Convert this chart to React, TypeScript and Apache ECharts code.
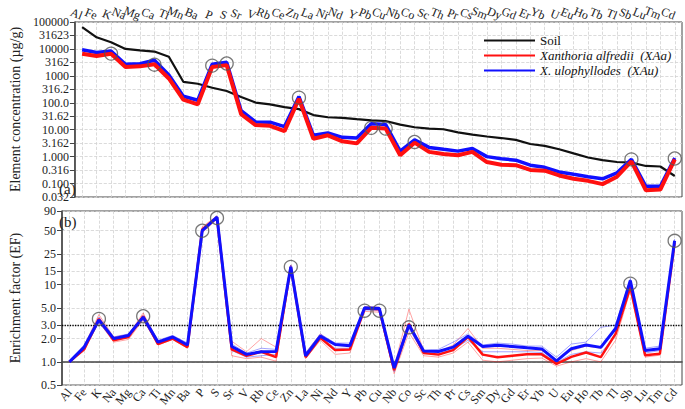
import React, { useEffect, useRef } from 'react';
import * as echarts from 'echarts';

const ELEMENTS = ['Al','Fe','K','Na','Mg','Ca','Ti','Mn','Ba','P','S','Sr','V','Rb','Ce','Zn','La','Ni','Nd','Y','Pb','Cu','Nb','Co','Sc','Th','Pr','Cs','Sm','Dy','Gd','Er','Yb','U','Eu','Ho','Tb','Tl','Sb','Lu','Tm','Cd'];

// Panel (a): element concentration (µg/g)
const SOIL_CONC = [65000, 27000, 17800, 10000, 8900, 8000, 5100, 600, 510, 360, 273, 163, 102, 87, 69, 58, 35, 29, 27.5, 24.6, 22.3, 21, 15.5, 12.3, 11, 10.4, 7.9, 6.6, 5.6, 4.9, 4.2, 2.95, 2.5, 1.88, 1.32, 0.93, 0.74, 0.63, 0.6, 0.45, 0.43, 0.19];
const XAU_CONC = [9300, 7400, 8300, 2700, 2800, 3800, 1070, 174, 124, 2700, 3200, 51, 19.5, 19, 13, 170, 6.2, 7.6, 5.2, 4.9, 16.6, 15.5, 1.6, 4.2, 2.2, 1.87, 1.6, 2.0, 1.0, 0.83, 0.74, 0.48, 0.4, 0.27, 0.22, 0.18, 0.15, 0.25, 0.79, 0.079, 0.079, 0.89];
const XAA_CONC = [6600, 5500, 6600, 2150, 2250, 2700, 800, 130, 87, 2150, 2500, 38, 14.8, 14, 8.8, 141, 4.6, 6.2, 3.7, 3.1, 11.7, 11, 1.12, 3.3, 1.5, 1.26, 1.12, 1.5, 0.63, 0.5, 0.48, 0.32, 0.3, 0.2, 0.15, 0.126, 0.095, 0.18, 0.66, 0.056, 0.06, 0.79];

// Circled elements
const CIRCLE_ELEMENTS = ['K','Ca','P','S','Zn','Pb','Cu','Co','Sb','Cd'];
const CIRCLE_CONC = [6700, 2600, 2400, 2870, 155, 11.7, 11, 3.5, 0.79, 0.85];
const CIRCLE_EF = [3.6, 3.9, 50, 73, 17, 4.6, 4.6, 2.8, 10.3, 37];

// Panel (b): enrichment factor
const XAU_EF = [1.0, 1.55, 3.5, 2.0, 2.2, 3.8, 1.8, 2.1, 1.65, 50, 75, 1.58, 1.25, 1.35, 1.36, 17, 1.2, 2.15, 1.68, 1.62, 5.0, 4.9, 0.83, 3.0, 1.38, 1.36, 1.55, 2.15, 1.58, 1.64, 1.58, 1.52, 1.47, 1.03, 1.48, 1.65, 1.54, 2.7, 11.3, 1.4, 1.48, 37];
const XAA_EF = [1.0, 1.45, 3.6, 1.9, 2.1, 3.9, 1.7, 2.0, 1.55, 52, 74, 1.45, 1.2, 1.35, 1.15, 17, 1.15, 2.05, 1.42, 1.45, 4.9, 4.8, 0.78, 3.1, 1.3, 1.24, 1.42, 2.1, 1.24, 1.15, 1.2, 1.25, 1.25, 0.94, 1.16, 1.32, 1.15, 2.3, 9.3, 1.22, 1.27, 35];
const XAA_EF_LOW = [1.0, 1.4, 3.3, 1.8, 1.95, 3.5, 1.65, 1.95, 1.5, 47, 70, 1.2, 1.1, 1.15, 1.02, 16, 1.1, 1.9, 1.25, 1.3, 4.5, 4.4, 0.7, 2.4, 1.2, 1.15, 1.3, 1.8, 1.05, 1.0, 1.05, 1.1, 1.12, 0.88, 1.0, 1.1, 1.0, 1.9, 8.5, 1.15, 1.22, 33];
const XAA_EF_HIGH = [1.0, 1.6, 4.1, 2.1, 2.25, 4.3, 1.85, 2.15, 1.7, 56, 78, 1.85, 1.35, 2.0, 1.55, 18, 1.3, 2.3, 1.65, 1.65, 5.2, 5.1, 0.85, 4.8, 1.4, 1.35, 1.65, 2.7, 1.5, 1.5, 1.45, 1.4, 1.4, 1.05, 1.4, 1.6, 1.5, 2.6, 10.5, 1.4, 1.45, 37];
const XAU_EF_LOW = [1.0, 1.45, 3.2, 1.9, 2.1, 3.5, 1.7, 2.0, 1.55, 48, 72, 1.4, 1.15, 1.2, 1.25, 16, 1.15, 2.1, 1.5, 1.5, 4.7, 4.6, 0.75, 2.7, 1.28, 1.28, 1.45, 1.9, 1.35, 1.35, 1.35, 1.35, 1.32, 0.98, 1.25, 1.35, 1.3, 2.2, 9.5, 1.3, 1.4, 35];
const XAU_EF_HIGH = [1.0, 1.65, 3.8, 2.1, 2.3, 4.0, 1.9, 2.2, 1.75, 52, 78, 1.7, 1.3, 1.5, 1.45, 18, 1.3, 2.3, 1.75, 1.75, 5.2, 5.1, 0.85, 3.2, 1.4, 1.45, 1.8, 2.3, 1.65, 1.75, 1.7, 1.6, 1.6, 1.15, 1.7, 1.8, 2.8, 3.0, 12, 1.5, 1.6, 39];

// Tick labels
const TOP_TICK_LABELS = ['0.032','0.100','0.316','1.000','3.162','10.00','31.62','100.0','316.2','1000','3162','10000','31623','100000'];
const EF_TICKS = [0.5, 1, 2, 3, 5, 10, 15, 25, 50, 90];
const EF_TICK_LABELS = ['0.5','1.0','2.0','3.0','5.0','10','15','25','50','90'];
const EF_THRESHOLD = 3;

const SOIL_NAME = 'Soil';
const XAA_NAME = 'Xanthoria alfredii  (XAa)';
const XAU_NAME = 'X. ulophyllodes  (XAu)';

const FONT = 'Liberation Serif';
const RED = '#ff1010';
const BLUE = '#1010ff';
const GRIDC = '#d2d2d2';
const AXC = '#444';

const lg = (v: number) => Math.log10(v);

function buildOption() {
  const catAxis = (gridIndex: number, top: boolean) => ({
    gridIndex,
    type: 'category',
    data: ELEMENTS,
    position: top ? 'top' : 'bottom',
    boundaryGap: true,
    axisLine: { show: !top, lineStyle: { color: AXC, width: 1.5 } },
    axisTick: { show: false },
    axisLabel: {
      interval: 0,
      rotate: top ? -22 : 50,
      fontFamily: FONT,
      fontSize: 12,
      color: '#222',
      margin: top ? 6 : 5,
    },
    splitLine: { show: true, alignWithLabel: true, lineStyle: { color: GRIDC, type: 'dashed', width: 0.8 } },
  });

  const efTickVals = EF_TICKS.map(lg);

  return {
    animation: false,
    backgroundColor: '#fff',
    textStyle: { fontFamily: FONT },
    grid: [
      { left: 53, right: 3, top: 22, height: 175, show: true, borderColor: AXC, borderWidth: 1 },
      { left: 53, right: 3, top: 211, height: 176, show: true, borderColor: AXC, borderWidth: 1 },
    ],
    xAxis: [catAxis(0, true), catAxis(1, false)],
    yAxis: [
      {
        gridIndex: 0,
        type: 'value',
        min: -1.5,
        max: 5,
        interval: 0.5,
        axisLine: { show: true, lineStyle: { color: AXC, width: 1.5 } },
        axisTick: { show: true, length: 5, lineStyle: { color: AXC, width: 1 } },
        axisLabel: {
          fontFamily: FONT,
          fontSize: 12,
          lineHeight: 12,
          color: '#222',
          margin: 6,
          formatter: (v: number) => TOP_TICK_LABELS[Math.round((v + 1.5) / 0.5)] ?? '',
        },
        splitLine: { show: true, lineStyle: { color: GRIDC, type: 'dashed', width: 0.8 } },
        name: 'Element concentration (µg/g)',
        nameLocation: 'middle',
        nameGap: 40,
        nameTextStyle: { fontFamily: FONT, fontSize: 14, color: '#222' },
      },
      {
        gridIndex: 1,
        type: 'value',
        min: lg(0.5),
        max: lg(90),
        axisLine: { show: true, lineStyle: { color: AXC, width: 1.5 } },
        axisTick: { show: true, length: 5, customValues: efTickVals, lineStyle: { color: AXC, width: 1 } },
        axisLabel: {
          fontFamily: FONT,
          fontSize: 12,
          lineHeight: 12,
          color: '#222',
          margin: 6,
          customValues: efTickVals,
          formatter: (v: number) => {
            const i = efTickVals.findIndex((t) => Math.abs(t - v) < 1e-6);
            return i >= 0 ? EF_TICK_LABELS[i] : '';
          },
        },
        splitLine: { show: true, lineStyle: { color: GRIDC, type: 'dashed', width: 0.8 } },
        name: 'Enrichment factor (EF)',
        nameLocation: 'middle',
        nameGap: 40,
        nameTextStyle: { fontFamily: FONT, fontSize: 14, color: '#222' },
      },
    ],
    legend: {
      orient: 'vertical',
      left: 479,
      top: 29,
      icon: 'rect',
      itemWidth: 51,
      itemHeight: 2,
      itemGap: 2,
      selectedMode: false,
      textStyle: { fontFamily: FONT, fontSize: 13, color: '#111' },
      data: [
        { name: SOIL_NAME },
        { name: XAA_NAME, textStyle: { fontStyle: 'italic' } },
        { name: XAU_NAME, textStyle: { fontStyle: 'italic' } },
      ],
    },
    graphic: [
      { type: 'text', left: 59, top: 181, z: 100, style: { text: '(a)', fontFamily: FONT, fontSize: 15, fill: '#222' } },
      { type: 'text', left: 59, top: 214, z: 100, style: { text: '(b)', fontFamily: FONT, fontSize: 15, fill: '#222' } },
    ],
    series: [
      // Panel (a)
      {
        name: SOIL_NAME, type: 'line', xAxisIndex: 0, yAxisIndex: 0, symbol: 'none',
        data: SOIL_CONC.map(lg), lineStyle: { color: '#111', width: 2.2 }, itemStyle: { color: '#111' }, z: 3,
      },
      {
        name: XAU_NAME, type: 'line', xAxisIndex: 0, yAxisIndex: 0, symbol: 'none',
        data: XAU_CONC.map(lg), lineStyle: { color: BLUE, width: 3.5 }, itemStyle: { color: BLUE }, z: 4,
      },
      {
        name: XAA_NAME, type: 'line', xAxisIndex: 0, yAxisIndex: 0, symbol: 'none',
        data: XAA_CONC.map(lg), lineStyle: { color: RED, width: 4 }, itemStyle: { color: RED }, z: 5,
      },
      {
        name: 'circles-a', type: 'scatter', xAxisIndex: 0, yAxisIndex: 0, symbol: 'circle', symbolSize: 13,
        data: CIRCLE_ELEMENTS.map((e, i) => [e, lg(CIRCLE_CONC[i])]),
        itemStyle: { color: 'rgba(0,0,0,0)', borderColor: '#555', borderWidth: 1.3 }, z: 6, silent: true,
      },
      // Panel (b)
      ...[
        { n: 'XAa low', d: XAA_EF_LOW, c: RED },
        { n: 'XAa high', d: XAA_EF_HIGH, c: RED },
        { n: 'XAu low', d: XAU_EF_LOW, c: BLUE },
        { n: 'XAu high', d: XAU_EF_HIGH, c: BLUE },
      ].map((s) => ({
        name: s.n, type: 'line', xAxisIndex: 1, yAxisIndex: 1, symbol: 'none',
        data: s.d.map(lg), lineStyle: { color: s.c, width: 0.7, opacity: 0.55 }, itemStyle: { color: s.c }, z: 3, silent: true,
      })),
      {
        name: 'XAa EF', type: 'line', xAxisIndex: 1, yAxisIndex: 1, symbol: 'none',
        data: XAA_EF.map(lg), lineStyle: { color: RED, width: 2.5 }, itemStyle: { color: RED }, z: 4,
      },
      {
        name: 'XAu EF', type: 'line', xAxisIndex: 1, yAxisIndex: 1, symbol: 'none',
        data: XAU_EF.map(lg), lineStyle: { color: BLUE, width: 3 }, itemStyle: { color: BLUE }, z: 5,
        markLine: {
          silent: true, symbol: ['none', 'none'], label: { show: false },
          lineStyle: { color: '#000', type: 'dotted', width: 1.3 },
          data: [{ yAxis: lg(EF_THRESHOLD) }],
        },
      },
      {
        name: 'circles-b', type: 'scatter', xAxisIndex: 1, yAxisIndex: 1, symbol: 'circle', symbolSize: 13,
        data: CIRCLE_ELEMENTS.map((e, i) => [e, lg(CIRCLE_EF[i])]),
        itemStyle: { color: 'rgba(0,0,0,0)', borderColor: '#555', borderWidth: 1.3 }, z: 6, silent: true,
      },
    ],
  };
}

export default function App() {
  const ref = useRef<HTMLDivElement>(null);
  useEffect(() => {
    if (!ref.current) return;
    const chart = echarts.init(ref.current, null, { renderer: 'svg' });
    chart.setOption(buildOption() as any);
    return () => chart.dispose();
  }, []);
  return (
    <div
      ref={ref}
      style={{ position: 'absolute', left: 0, top: 0, width: 685, height: 409, background: '#fff' }}
    />
  );
}
